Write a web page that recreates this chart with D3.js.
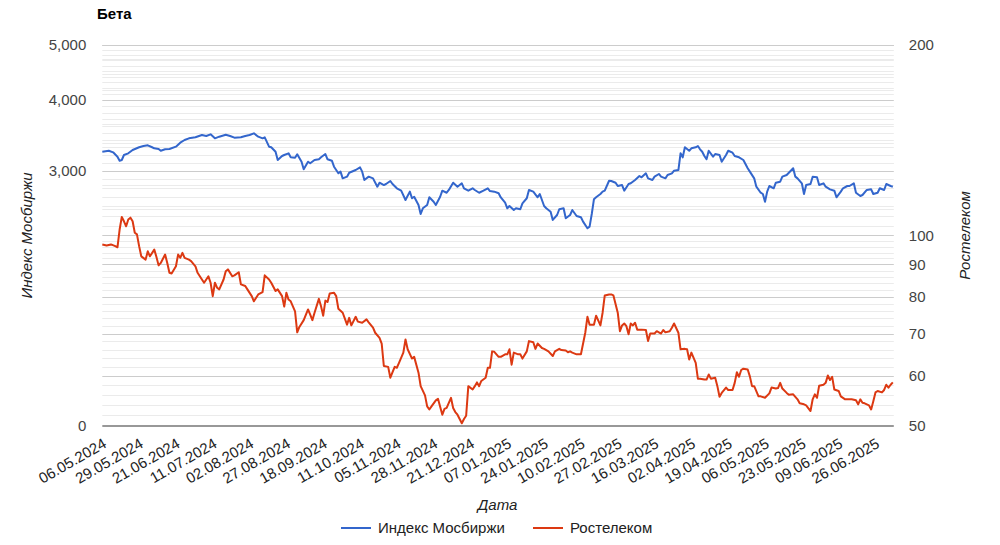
<!DOCTYPE html>
<html><head><meta charset="utf-8">
<script src="https://cdn.jsdelivr.net/npm/d3@7"></script>
<style>
body{margin:0;background:#fff;}
text{font-family:Arial,"Liberation Sans",sans-serif;}
</style>
</head><body>
<svg id="chart" width="1000" height="545"></svg>
<script>
const chartTitle = "Бета";
const seriesNames = ["Индекс Мосбиржи", "Ростелеком"];
const seriesColors = ["#3366cc", "#dc3912"];
const xAxisTitle = "Дата";
const pointCount = 366;
const xTickStep = 17;
const xTickLabels = ["06.05.2024","29.05.2024","21.06.2024","11.07.2024","02.08.2024","27.08.2024","18.09.2024","11.10.2024","05.11.2024","28.11.2024","21.12.2024","07.01.2025","24.01.2025","10.02.2025","27.02.2025","16.03.2025","02.04.2025","19.04.2025","06.05.2025","23.05.2025","09.06.2025","26.06.2025"];
const leftTicks = [3000, 4000, 5000];
const leftTickLabels = ["3,000", "4,000", "5,000"];
const leftBaseLabel = "0";
const rightTicks = [50, 60, 70, 80, 90, 100, 200];

// [point index, value]
const moex = [[0,3244],[3,3257],[5,3236],[7,3179],[8,3128],[9,3137],[10,3201],[12,3223],[14,3267],[17,3303],[19,3320],[21,3329],[23,3303],[24,3289],[26,3280],[27,3257],[29,3276],[31,3280],[34,3311],[36,3365],[38,3402],[40,3425],[43,3439],[46,3471],[48,3457],[50,3481],[52,3425],[54,3448],[57,3476],[59,3457],[61,3434],[64,3439],[66,3457],[68,3471],[70,3495],[72,3448],[74,3425],[75,3439],[77,3311],[78,3303],[80,3244],[81,3137],[83,3188],[84,3201],[86,3223],[87,3171],[89,3166],[90,3210],[92,3115],[93,3021],[95,3115],[96,3095],[98,3137],[100,3146],[101,3171],[103,3214],[104,3146],[106,3128],[107,3053],[109,2972],[110,2992],[111,2912],[113,2932],[114,2979],[117,3012],[119,3045],[120,2992],[121,2893],[123,2932],[125,2912],[127,2815],[128,2861],[130,2834],[131,2846],[133,2881],[134,2846],[136,2797],[138,2770],[140,2667],[142,2759],[143,2686],[144,2703],[146,2614],[147,2520],[148,2579],[150,2614],[151,2697],[153,2649],[154,2614],[156,2703],[157,2770],[159,2747],[160,2778],[162,2861],[164,2815],[166,2854],[167,2797],[169,2770],[171,2797],[172,2778],[174,2747],[176,2770],[178,2797],[179,2766],[181,2759],[183,2741],[184,2695],[186,2638],[187,2579],[188,2603],[190,2561],[191,2579],[193,2569],[194,2632],[196,2686],[197,2778],[199,2759],[201,2697],[202,2733],[204,2603],[205,2579],[207,2544],[208,2460],[210,2510],[211,2569],[213,2579],[214,2477],[216,2510],[217,2561],[219,2500],[221,2487],[222,2443],[224,2378],[225,2394],[226,2520],[227,2675],[228,2697],[230,2733],[231,2759],[232,2770],[234,2884],[235,2881],[237,2861],[238,2823],[240,2834],[241,2770],[243,2846],[244,2854],[246,2893],[248,2940],[249,2924],[251,2972],[252,2912],[254,2893],[255,2932],[257,2964],[258,2932],[260,2912],[261,2952],[263,2972],[264,3004],[266,3012],[267,3223],[268,3171],[269,3303],[271,3257],[272,3289],[274,3303],[275,3320],[276,3276],[277,3244],[278,3188],[279,3146],[280,3257],[282,3179],[283,3214],[285,3201],[286,3115],[288,3201],[289,3257],[291,3231],[292,3188],[294,3171],[296,3137],[298,3033],[299,2992],[301,2912],[302,2815],[304,2747],[305,2733],[306,2649],[307,2759],[308,2823],[310,2797],[311,2861],[313,2873],[314,2932],[316,2952],[317,2979],[319,3033],[320,2932],[321,2912],[323,2854],[324,2733],[325,2834],[327,2846],[328,2932],[330,2924],[331,2834],[333,2854],[334,2815],[336,2785],[338,2770],[339,2697],[341,2759],[342,2797],[344,2823],[345,2823],[347,2854],[348,2747],[350,2711],[351,2722],[353,2778],[355,2785],[356,2733],[358,2747],[359,2797],[361,2778],[362,2846],[364,2823],[365,2815]];

const rtkm = [[0,96.8],[2,96.4],[4,96.8],[6,96.2],[7,95.8],[8,102.2],[9,107.0],[10,105.3],[11,103.4],[12,106.0],[13,106.7],[14,105.3],[15,101.0],[16,100.4],[17,96.2],[18,92.7],[20,91.6],[21,94.4],[22,92.7],[24,95.0],[25,92.5],[26,89.7],[27,90.5],[29,93.3],[30,90.5],[31,87.3],[32,87.1],[34,89.4],[35,93.3],[36,92.2],[37,93.9],[38,92.2],[40,91.6],[41,91.1],[43,89.4],[44,87.3],[46,85.2],[47,84.2],[49,86.2],[50,84.2],[51,80.2],[52,84.2],[53,82.7],[54,82.2],[56,85.2],[57,87.8],[58,88.4],[60,86.2],[61,86.5],[63,87.5],[64,83.7],[66,83.2],[67,82.2],[69,80.2],[70,78.7],[72,80.7],[74,81.4],[75,86.5],[77,85.2],[78,84.2],[80,81.7],[81,82.2],[83,80.2],[84,77.2],[85,81.2],[86,79.2],[87,78.7],[89,75.9],[90,70.3],[91,71.7],[93,73.5],[95,76.4],[96,75.0],[97,73.5],[98,75.5],[100,79.4],[101,77.3],[102,74.7],[103,78.9],[104,78.5],[105,81.0],[107,81.2],[108,80.2],[109,76.6],[111,75.5],[112,73.9],[113,72.3],[114,74.1],[115,72.1],[117,74.4],[118,73.1],[120,72.8],[122,73.7],[123,72.9],[125,71.5],[126,70.2],[128,68.9],[129,67.5],[130,62.2],[132,62.0],[133,59.6],[135,62.0],[136,61.8],[137,62.9],[139,65.3],[140,68.5],[141,66.1],[143,63.9],[144,64.3],[146,60.7],[147,57.8],[149,55.9],[150,53.7],[151,53.1],[152,53.7],[154,54.9],[155,55.2],[157,52.1],[158,53.2],[159,53.4],[161,55.4],[162,53.4],[163,52.6],[164,52.1],[166,50.5],[167,51.3],[168,51.9],[169,57.8],[171,57.1],[172,57.8],[173,58.6],[174,57.8],[175,58.9],[177,59.6],[178,61.8],[179,61.8],[180,65.6],[181,65.5],[183,64.3],[184,64.3],[186,64.9],[187,64.9],[188,66.1],[189,62.5],[190,65.3],[192,64.9],[193,64.9],[194,63.9],[196,65.6],[197,68.1],[199,67.8],[200,66.2],[201,67.5],[203,66.4],[204,66.2],[206,65.6],[208,64.5],[209,65.6],[211,66.2],[212,65.9],[214,65.8],[215,65.4],[216,65.6],[217,65.3],[219,64.9],[221,64.9],[223,70.2],[224,74.4],[225,72.3],[226,72.3],[227,72.3],[228,74.7],[230,72.1],[231,75.5],[232,80.4],[234,80.7],[235,80.7],[236,80.4],[238,75.5],[239,70.6],[240,72.1],[241,72.6],[242,71.9],[243,69.8],[244,72.6],[245,72.1],[246,72.8],[247,71.0],[249,71.0],[251,70.9],[252,68.1],[253,70.0],[255,70.0],[256,70.6],[258,70.0],[259,70.9],[260,70.3],[262,70.6],[263,71.5],[264,72.6],[266,70.2],[267,66.1],[269,66.2],[270,66.1],[271,63.7],[272,65.3],[274,62.9],[275,59.4],[276,59.4],[278,59.2],[279,59.2],[280,60.3],[281,59.4],[283,59.6],[284,57.8],[285,55.6],[286,56.4],[288,57.5],[289,57.0],[291,57.0],[292,58.5],[293,60.8],[294,59.8],[295,61.3],[296,61.6],[298,61.4],[299,59.9],[300,57.8],[301,57.8],[303,55.7],[304,55.7],[306,55.4],[308,56.3],[309,57.5],[311,57.3],[312,57.4],[313,58.5],[314,57.3],[316,56.4],[317,56.0],[319,56.1],[321,55.1],[322,54.3],[324,54.1],[325,53.9],[327,52.8],[328,55.1],[329,56.1],[330,55.4],[331,57.9],[333,58.1],[334,58.5],[335,60.1],[336,59.1],[337,59.8],[338,57.1],[340,56.8],[341,55.7],[343,55.1],[344,55.1],[346,55.1],[348,54.9],[349,54.1],[350,55.1],[351,54.4],[352,54.3],[354,53.9],[355,53.1],[356,54.7],[357,56.5],[358,56.8],[360,56.5],[361,57.0],[362,58.1],[363,57.5],[364,58.1],[365,58.6]];

const svg = d3.select("#chart");
const plot = {left: 102.3, right: 892.8, top: 45, bottom: 426};

const x = d3.scaleLinear().domain([0, pointCount - 1]).range([plot.left, plot.right]);
const yL = d3.scaleLog().domain([1067, 5000]).range([plot.bottom, plot.top]);
const yR = d3.scaleLog().domain([50, 200]).range([plot.bottom, plot.top]);

// minor gridlines
const leftMinor = d3.range(2400, 5000, 100).filter(v => !leftTicks.includes(v));
const rightMinor = d3.range(52, 100, 2).filter(v => v % 10 !== 0).concat(d3.range(110, 200, 10));
const grid = svg.append("g");
grid.selectAll("line.lm").data(leftMinor).join("line")
  .attr("x1", plot.left).attr("x2", plot.right + 1)
  .attr("y1", d => Math.round(yL(d)) + 0.5).attr("y2", d => Math.round(yL(d)) + 0.5)
  .attr("stroke", "#ebebeb");
grid.selectAll("line.rm").data(rightMinor).join("line")
  .attr("x1", plot.left).attr("x2", plot.right + 1)
  .attr("y1", d => Math.round(yR(d)) + 0.5).attr("y2", d => Math.round(yR(d)) + 0.5)
  .attr("stroke", "#ebebeb");
grid.selectAll("line.lM").data(leftTicks).join("line")
  .attr("x1", plot.left).attr("x2", plot.right + 1)
  .attr("y1", d => Math.round(yL(d)) + 0.5).attr("y2", d => Math.round(yL(d)) + 0.5)
  .attr("stroke", "#cccccc");
grid.selectAll("line.rM").data(rightTicks.filter(v => v > 50)).join("line")
  .attr("x1", plot.left).attr("x2", plot.right + 1)
  .attr("y1", d => Math.round(yR(d)) + 0.5).attr("y2", d => Math.round(yR(d)) + 0.5)
  .attr("stroke", "#cccccc");

// baseline
svg.append("line").attr("x1", plot.left).attr("x2", plot.right + 1)
  .attr("y1", plot.bottom).attr("y2", plot.bottom)
  .attr("stroke", "#333").attr("stroke-width", 1.2);

// left axis
const axL = d3.axisLeft(yL).tickValues(leftTicks).tickFormat((d, i) => leftTickLabels[i]).tickSize(0).tickPadding(16);
const gL = svg.append("g").attr("transform", `translate(${plot.left},0)`).call(axL);
gL.select(".domain").remove();
gL.append("text").attr("x", -16).attr("y", plot.bottom).attr("dy", "0.32em")
  .attr("text-anchor", "end").text(leftBaseLabel);
gL.selectAll("text").attr("font-size", 15).attr("fill", "#444")
  .attr("font-family", "Arial, 'Liberation Sans', sans-serif");

// right axis
const axR = d3.axisRight(yR).tickValues(rightTicks).tickFormat(d3.format("d")).tickSize(0).tickPadding(16);
const gR = svg.append("g").attr("transform", `translate(${plot.right},0)`).call(axR);
gR.select(".domain").remove();
gR.selectAll("text").attr("font-size", 15).attr("fill", "#444")
  .attr("font-family", "Arial, 'Liberation Sans', sans-serif");

// x axis labels
const xTickIdx = xTickLabels.map((_, i) => i * xTickStep);
const axX = d3.axisBottom(x).tickValues(xTickIdx).tickFormat((d, i) => xTickLabels[i]).tickSize(0);
const gX = svg.append("g").attr("transform", `translate(0,${plot.bottom})`).call(axX);
gX.select(".domain").remove();
gX.selectAll(".tick text")
  .attr("font-size", 15).attr("fill", "#222")
  .attr("font-family", "Arial, 'Liberation Sans', sans-serif")
  .attr("text-anchor", "end")
  .attr("y", 0).attr("dy", "0.35em")
  .attr("transform", "translate(2,16) rotate(-30)");

// lines
const lineL = d3.line().x(d => x(d[0])).y(d => yL(d[1]));
const lineR = d3.line().x(d => x(d[0])).y(d => yR(d[1]));
svg.append("path").datum(moex).attr("d", lineL).attr("fill", "none")
  .attr("stroke", seriesColors[0]).attr("stroke-width", 2).attr("stroke-linejoin", "round");
svg.append("path").datum(rtkm).attr("d", lineR).attr("fill", "none")
  .attr("stroke", seriesColors[1]).attr("stroke-width", 2).attr("stroke-linejoin", "round");

// title
svg.append("text").attr("x", 97).attr("y", 19).attr("font-size", 15).attr("font-weight", "bold")
  .attr("fill", "#000").text(chartTitle);

// axis titles
svg.append("text").attr("transform", `translate(32,${(plot.top + plot.bottom) / 2}) rotate(-90)`)
  .attr("text-anchor", "middle").attr("font-size", 15).attr("font-style", "italic").attr("fill", "#222")
  .text(seriesNames[0]);
svg.append("text").attr("transform", `translate(970,${(plot.top + plot.bottom) / 2}) rotate(-90)`)
  .attr("text-anchor", "middle").attr("font-size", 15).attr("font-style", "italic").attr("fill", "#222")
  .text(seriesNames[1]);
svg.append("text").attr("x", (plot.left + plot.right) / 2).attr("y", 510)
  .attr("text-anchor", "middle").attr("font-size", 15).attr("font-style", "italic").attr("fill", "#222")
  .text(xAxisTitle);

// legend
const legendX = [341, 533];
const lg = svg.append("g");
seriesNames.forEach((name, i) => {
  lg.append("line").attr("x1", legendX[i]).attr("x2", legendX[i] + 30)
    .attr("y1", 528).attr("y2", 528).attr("stroke", seriesColors[i]).attr("stroke-width", 2);
  lg.append("text").attr("x", legendX[i] + 37).attr("y", 533)
    .attr("font-size", 15).attr("fill", "#222").text(name);
});
</script>
</body></html>
